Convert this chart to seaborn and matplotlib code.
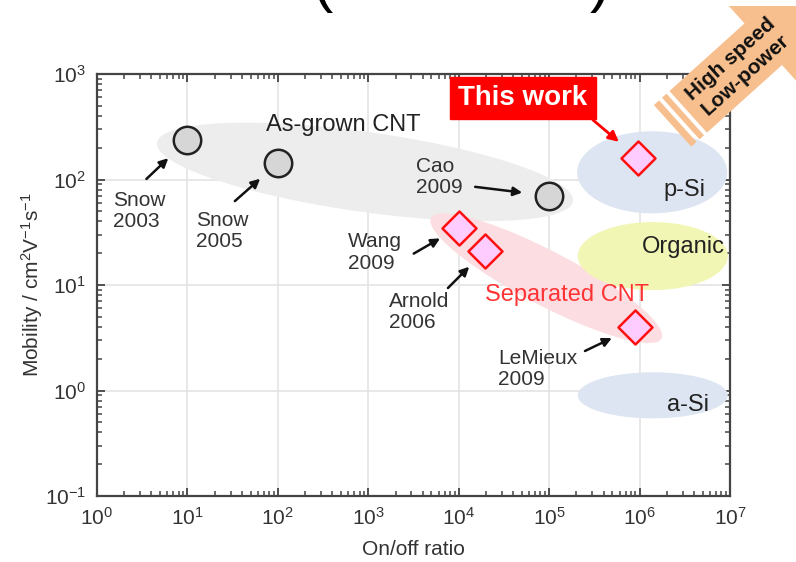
import numpy as np
import pandas as pd
import matplotlib
matplotlib.use("Agg")
import matplotlib.pyplot as plt
import seaborn as sns
from matplotlib.patches import Polygon, Rectangle
from matplotlib.ticker import LogLocator, NullFormatter

# as-grown CNT reports (grey circles)
cnt_labels = ["Snow\n2003", "Snow\n2005", "Cao\n2009"]
cnt_onoff = [10, 100, 1.0e5]
cnt_mobility = [237, 143, 70]

# separated CNT reports (pink diamonds)
sep_labels = ["Wang\n2009", "Arnold\n2006", "LeMieux\n2009"]
sep_onoff = [1.0e4, 1.95e4, 8.9e5]
sep_mobility = [35, 21, 4.0]

# this work
this_label = "This work"
this_onoff = [9.6e5]
this_mobility = [160]

# material regions (centre of each shaded area)
region_names = ["As-grown CNT", "Separated CNT", "p-Si", "Organic", "a-Si"]
region_onoff = [9.2e2, 9.3e4, 1.38e6, 1.4e6, 1.4e6]
region_mobility = [118, 11.6, 117, 18.8, 0.9]

xticks = [1e0, 1e1, 1e2, 1e3, 1e4, 1e5, 1e6, 1e7]
yticks = [1e-1, 1e0, 1e1, 1e2, 1e3]

# ---- styling (pixels) ----
W, H = 796, 562
region_colors = ["#EDEDED", "#FCDDE2", "#DCE5F1", "#F1F6B4", "#DCE5F1"]
region_shape = [(210, 40, -8), (130, 27, -27.6), (75, 41, 0), (75, 34, 0), (75, 23, 0)]
region_text_off = [(-22, 47), (21, -17), (32, -18), (31, 9), (35, -10)]
region_text_color = ["#222222", "#FF3333", "#222222", "#222222", "#222222"]

cnt_text_off = [(-74, -71), (-82, -68), (-133, 19)]
cnt_arrow_off = [(-41, -39), (-43, -38), (-74, 9)]
cnt_arrow_shrink = [19, 17, 19.5]
sep_text_off = [(-111, -25), (-96, -61), (-137, -42)]
sep_arrow_off = [(-45, -26), (-37, -37), (-50, -24)]
sep_arrow_shrink = [15.5, 16, 18.5]

sns.set_theme(style="ticks")
plt.rcParams["font.family"] = ["Liberation Sans", "DejaVu Sans"]
plt.rcParams["mathtext.fontset"] = "custom"
plt.rcParams["mathtext.rm"] = "Liberation Sans"
plt.rcParams["mathtext.it"] = "Liberation Sans:italic"
plt.rcParams["mathtext.bf"] = "Liberation Sans:bold"

fig = plt.figure(figsize=(W / 100, H / 100), dpi=100)
ax = fig.add_axes([97 / W, 1 - 496 / H, (730 - 97) / W, (496 - 74) / H])
ax.set_xscale("log")
ax.set_yscale("log")
ax.set_xlim(1, 1e7)
ax.set_ylim(0.1, 1000)
ax.set_xticks(xticks)
ax.set_yticks(yticks)
for axis in (ax.xaxis, ax.yaxis):
    axis.set_minor_locator(LogLocator(base=10, subs=np.arange(2, 10), numticks=50))
    axis.set_minor_formatter(NullFormatter())
ax.grid(True, which="major", color="#E4E4E4", lw=1.2, zorder=0)
ax.set_axisbelow(True)


def draw_region(x, y, half_w, half_h, angle, color):
    """Fill an ellipse given in screen pixels around a data point."""
    cx, cy = ax.transData.transform((x, y))
    t = np.linspace(0, 2 * np.pi, 240)
    a = np.deg2rad(angle)
    px = cx + half_w * np.cos(t) * np.cos(a) - half_h * np.sin(t) * np.sin(a)
    py = cy + half_w * np.cos(t) * np.sin(a) + half_h * np.sin(t) * np.cos(a)
    pts = ax.transData.inverted().transform(np.column_stack([px, py]))
    ax.fill(pts[:, 0], pts[:, 1], color=color, lw=0, zorder=1)


for i, name in enumerate(region_names):
    hw, hh, ang = region_shape[i]
    draw_region(region_onoff[i], region_mobility[i], hw, hh, ang, region_colors[i])
    ax.annotate(name, xy=(region_onoff[i], region_mobility[i]), xytext=region_text_off[i],
                textcoords="offset pixels", ha="center", va="center", fontsize=17,
                color=region_text_color[i], zorder=4)

cnt_df = pd.DataFrame({"onoff": cnt_onoff, "mobility": cnt_mobility})
sep_df = pd.DataFrame({"onoff": sep_onoff + this_onoff, "mobility": sep_mobility + this_mobility})

sns.scatterplot(data=cnt_df, x="onoff", y="mobility", marker="o", s=390, color="#D6D6D6",
                edgecolor="#222222", linewidth=1.8, zorder=3, ax=ax)
sns.scatterplot(data=sep_df, x="onoff", y="mobility", marker="D", s=300, color="#FFCCFF",
                edgecolor="#FF1010", linewidth=1.8, zorder=3, ax=ax)

arrow_kw = dict(arrowstyle="-|>", color="#111111", lw=1.8, mutation_scale=13, shrinkA=0)
for labels, xs, ys, toff, aoff, shr in [
    (cnt_labels, cnt_onoff, cnt_mobility, cnt_text_off, cnt_arrow_off, cnt_arrow_shrink),
    (sep_labels, sep_onoff, sep_mobility, sep_text_off, sep_arrow_off, sep_arrow_shrink),
]:
    for i, lab in enumerate(labels):
        ax.annotate(lab, xy=(xs[i], ys[i]), xytext=toff[i], textcoords="offset pixels",
                    ha="left", va="center", fontsize=15, color="#333333", linespacing=1.15,
                    zorder=4)
        ax.annotate("", xy=(xs[i], ys[i]), xytext=aoff[i], textcoords="offset pixels",
                    arrowprops=dict(arrow_kw, shrinkB=shr[i]), zorder=4)

# "This work" callout
ax.annotate(this_label, xy=(this_onoff[0], this_mobility[0]), xytext=(-115, 60),
            textcoords="offset pixels", ha="center", va="center", fontsize=20,
            fontweight="bold", color="white", zorder=5,
            bbox=dict(boxstyle="square,pad=0.3", fc="#FF0000", ec="#FF0000"))
ax.annotate("", xy=(this_onoff[0], this_mobility[0]), xytext=(-45, 38),
            textcoords="offset pixels",
            arrowprops=dict(arrowstyle="-|>", color="#FF0000", lw=2, mutation_scale=15,
                            shrinkA=0, shrinkB=18), zorder=5)

ax.tick_params(which="both", direction="in", top=True, right=True, color="#444444")
ax.tick_params(which="major", length=6, width=1.3, labelsize=15, labelcolor="#333333", pad=8)
ax.tick_params(which="minor", length=3.5, width=1.1)
for sp in ax.spines.values():
    sp.set_color("#444444")
    sp.set_linewidth(1.6)

ax.set_xlabel("On/off ratio", fontsize=15, color="#333333")
ax.set_ylabel("Mobility / cm$^2$V$^{-1}$s$^{-1}$", fontsize=15, color="#333333")
ax.xaxis.set_label_coords(0.5, -0.104)
ax.yaxis.set_label_coords(-0.082, 0.5)

# big orange "High speed / Low-power" arrow (figure pixels, y down)
cx, cy = 738, 67
ang = np.deg2rad(42)
u = np.array([np.cos(ang), -np.sin(ang)])
n = np.array([np.sin(ang), np.cos(ang)])


def fpt(s, t):
    p = np.array([cx, cy]) + s * u + t * n
    return (p[0] / W, 1 - p[1] / H)


orange = "#F8BF8E"
body = [(-67, -28), (34, -28), (34, -66), (115, 0), (34, 66), (34, 28), (-67, 28)]
fig.add_artist(Polygon([fpt(s, t) for s, t in body], closed=True, fc=orange, ec="none",
                       transform=fig.transFigure, zorder=10))
for s0, s1 in [(-77, -71), (-88, -81)]:
    strip = [(s0, -28), (s1, -28), (s1, 28), (s0, 28)]
    fig.add_artist(Polygon([fpt(s, t) for s, t in strip], closed=True, fc=orange, ec="none",
                           transform=fig.transFigure, zorder=10))
fig.add_artist(Rectangle((0, 1 - 6 / H), 1, 6 / H, fc="white", ec="none",
                         transform=fig.transFigure, zorder=11))
fig.text(cx / W, 1 - cy / H, "High speed\nLow-power", rotation=42, rotation_mode="anchor",
         ha="center", va="center", multialignment="center", fontsize=15,
         fontweight="bold", color="#111111", linespacing=1.2, zorder=12)

# fragments of the surrounding slide title
fig.text(312 / W, 1.0, "(", fontsize=44, va="baseline", ha="left", color="black", zorder=12)
fig.text(590 / W, 1.0, ")", fontsize=44, va="baseline", ha="left", color="black", zorder=12)

fig.savefig("out.png", dpi=100)
